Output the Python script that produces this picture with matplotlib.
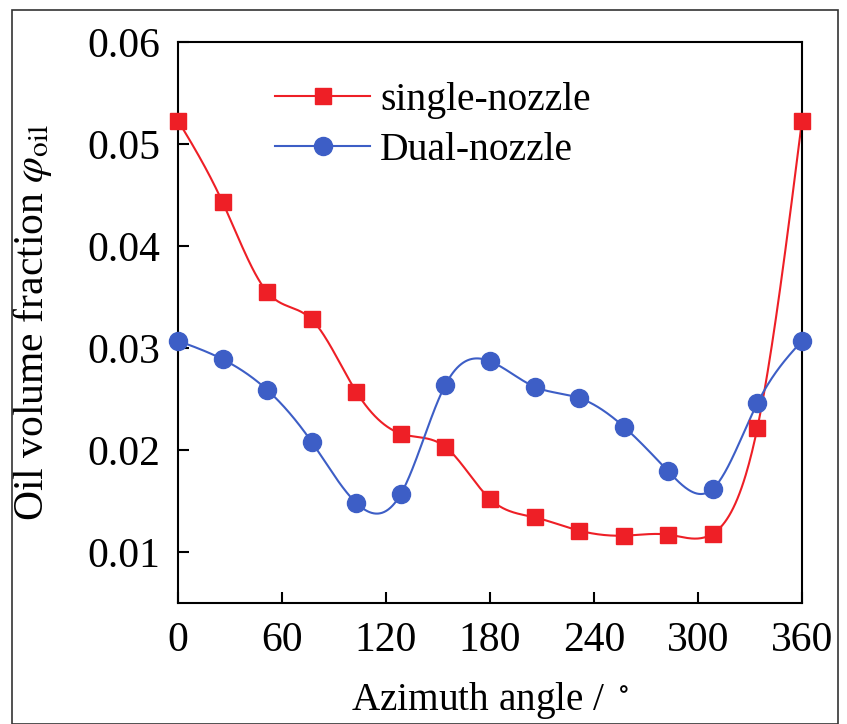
import numpy as np
import matplotlib
matplotlib.use("Agg")
import matplotlib.pyplot as plt
from matplotlib.patches import Rectangle

angles = [0, 25.7, 51.4, 77.1, 102.9, 128.6, 154.3, 180, 205.7, 231.4, 257.1, 282.9, 308.6, 334.3, 360]
single = [0.0523, 0.0443, 0.0355, 0.0328, 0.0257, 0.0216, 0.0203, 0.0152, 0.0134, 0.0121, 0.0116, 0.0117, 0.0118, 0.0222, 0.0523]
dual = [0.0307, 0.0289, 0.0259, 0.0208, 0.0148, 0.0157, 0.0264, 0.0287, 0.0262, 0.0251, 0.0223, 0.0179, 0.0162, 0.0246, 0.0307]
xticks = [0, 60, 120, 180, 240, 300, 360]
yticks = [0.01, 0.02, 0.03, 0.04, 0.05, 0.06]


def natural_spline(x, y, n=600):
    x = np.asarray(x, float)
    y = np.asarray(y, float)
    m = len(x)
    h = np.diff(x)
    A = np.zeros((m, m))
    b = np.zeros(m)
    A[0, 0] = 1
    A[-1, -1] = 1
    for i in range(1, m - 1):
        A[i, i - 1] = h[i - 1]
        A[i, i] = 2 * (h[i - 1] + h[i])
        A[i, i + 1] = h[i]
        b[i] = 3 * ((y[i + 1] - y[i]) / h[i] - (y[i] - y[i - 1]) / h[i - 1])
    c = np.linalg.solve(A, b)
    xs = np.linspace(x[0], x[-1], n)
    idx = np.clip(np.searchsorted(x, xs) - 1, 0, m - 2)
    dx = xs - x[idx]
    hi = h[idx]
    bi = (y[idx + 1] - y[idx]) / hi - hi * (2 * c[idx] + c[idx + 1]) / 3
    di = (c[idx + 1] - c[idx]) / (3 * hi)
    ys = y[idx] + bi * dx + c[idx] * dx ** 2 + di * dx ** 3
    return xs, ys


plt.rcParams['font.family'] = ['Liberation Serif', 'DejaVu Serif']
plt.rcParams['mathtext.fontset'] = 'stix'

red = '#ee1f26'
blue = '#3d5ec6'

fig = plt.figure(figsize=(8.47, 7.24), dpi=100)
W, H = 847, 724
ax = fig.add_axes([178 / W, 1 - 603 / H, (802 - 178) / W, (603 - 42) / H])

fig.patches.append(Rectangle((12 / W, 0.0), (838 - 12) / W, 1 - 10 / H - 0.0,
                             transform=fig.transFigure, fill=False,
                             edgecolor='#333333', linewidth=1.2))

xs, ys = natural_spline(angles, single)
ax.plot(xs, ys, color=red, lw=1.5, zorder=2)
ax.plot(angles, single, ls='none', marker='s', ms=12, color=red, zorder=3, clip_on=False)
xs, ys = natural_spline(angles, dual)
ax.plot(xs, ys, color=blue, lw=1.5, zorder=2)
ax.plot(angles, dual, ls='none', marker='o', ms=13, color=blue, zorder=3, clip_on=False)

h1, = ax.plot([], [], color=red, lw=1.5, marker='s', ms=12)
h2, = ax.plot([], [], color=blue, lw=1.5, marker='o', ms=13)
ax.legend([h1, h2], ['single-nozzle', 'Dual-nozzle'], loc='upper left',
          bbox_to_anchor=(275 / W, 1 - 82 / H), bbox_transform=fig.transFigure,
          frameon=False, fontsize=28.5, borderpad=0, borderaxespad=0,
          handlelength=2.4, handletextpad=0.25, labelspacing=0.33)

ax.set_xlim(0, 360)
ax.set_ylim(0.005, 0.06)
ax.set_xticks(xticks)
ax.set_xticklabels([str(t) for t in xticks])
ax.set_yticks(yticks)
ax.set_yticklabels([f'{t:.2f}' for t in yticks])
ax.tick_params(direction='in', length=8, width=1.5, labelsize=30)
ax.tick_params(axis='x', pad=13)
ax.tick_params(axis='y', pad=13)
for s in ax.spines.values():
    s.set_linewidth(1.5)

ax.set_xlabel('Azimuth angle / $^\\circ$', fontsize=28.3, labelpad=15)
ax.set_ylabel('Oil volume fraction $\\varphi_{\\mathrm{oil}}$', fontsize=30, labelpad=24)

fig.savefig('out.png', dpi=100)
